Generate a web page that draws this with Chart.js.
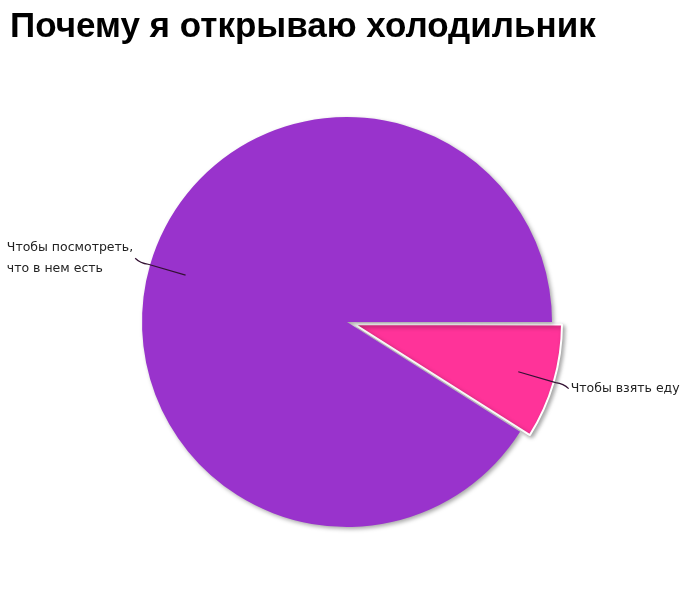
<!DOCTYPE html>
<html>
<head>
<meta charset="utf-8">
<script src="https://cdn.jsdelivr.net/npm/chart.js@4.4.1/dist/chart.umd.min.js"></script>
<style>
  html, body { margin: 0; padding: 0; background: #fff; }
  #wrap { width: 700px; height: 615px; }
</style>
</head>
<body>
<div id="wrap"><canvas id="fridgeChart" width="700" height="615"></canvas></div>
<script>
const chartTitle = 'Почему я открываю холодильник';
const labels = [['Чтобы взять еду'], ['Чтобы посмотреть,', 'что в нем есть']];
const values = [9, 91];
const colors = ['#ff3399', '#9933cc'];

// leader lines + labels next to each slice
const leaderLines = {
    id: 'leaderLines',
    afterDatasetsDraw(chart) {
        const ctx = chart.ctx;
        const meta = chart.getDatasetMeta(0);
        ctx.save();
        ctx.font = '12.5px "DejaVu Sans", sans-serif';
        ctx.textBaseline = 'middle';
        meta.data.forEach((arc, i) => {
            const mid = (arc.startAngle + arc.endAngle) / 2;
            const circ = arc.endAngle - arc.startAngle;
            const off = (arc.options.offset || 0) / 4;
            const shift = off * (2 - Math.sin(Math.min(Math.PI, circ)));
            const cos = Math.cos(mid), sin = Math.sin(mid);
            const cx = arc.x + cos * shift;
            const cy = arc.y + sin * shift;
            const r = arc.outerRadius;
            const x0 = cx + cos * r * 0.82, y0 = cy + sin * r * 0.82;
            const x1 = cx + cos * r * 1.01, y1 = cy + sin * r * 1.01;
            const side = cos >= 0 ? 1 : -1;
            const vs = sin >= 0 ? 1 : -1;
            const x2 = x1 + side * 13, y2 = y1 + vs * 6;

            ctx.strokeStyle = '#331133';
            ctx.lineWidth = 1.2;
            ctx.beginPath();
            ctx.moveTo(x0, y0);
            ctx.lineTo(x1, y1);
            ctx.quadraticCurveTo(x1 + side * 8, y1 + vs * 1, x2, y2);
            ctx.stroke();

            const lines = labels[i];
            const lh = 21;
            const w = Math.max(...lines.map(t => ctx.measureText(t).width));
            const tx = side > 0 ? x2 + 2 : x2 - 2 - w;
            ctx.fillStyle = '#222';
            ctx.textAlign = 'left';
            lines.forEach((t, k) => {
                ctx.fillText(t, tx, y2 + (k - (lines.length - 1) / 2) * lh);
            });
        });
        ctx.restore();
    }
};

// soft drop shadow under the pie
const pieShadow = {
    id: 'pieShadow',
    beforeDatasetsDraw(chart) {
        const ctx = chart.ctx;
        ctx.save();
        ctx.shadowColor = 'rgba(0,0,0,0.35)';
        ctx.shadowBlur = 4;
        ctx.shadowOffsetX = 2;
        ctx.shadowOffsetY = 2;
    },
    afterDatasetsDraw(chart) {
        chart.ctx.restore();
    }
};

new Chart(document.getElementById('fridgeChart'), {
    type: 'pie',
    data: {
        labels: labels,
        datasets: [{
            data: values,
            backgroundColor: colors,
            borderColor: '#ffffff',
            borderWidth: [2, 0],
            offset: [28, 0]
        }]
    },
    options: {
        responsive: false,
        animation: false,
        rotation: 90,
        radius: 205,
        layout: { padding: { left: 10, right: 16, top: 0, bottom: 19 } },
        plugins: {
            legend: { display: false },
            tooltip: { enabled: false },
            title: {
                display: true,
                text: chartTitle,
                align: 'start',
                color: '#000',
                font: { family: '"Liberation Sans", Arial, sans-serif', size: 35, weight: 'bold' },
                padding: { top: 6, bottom: 0 }
            }
        }
    },
    plugins: [pieShadow, leaderLines]
});
</script>
</body>
</html>
